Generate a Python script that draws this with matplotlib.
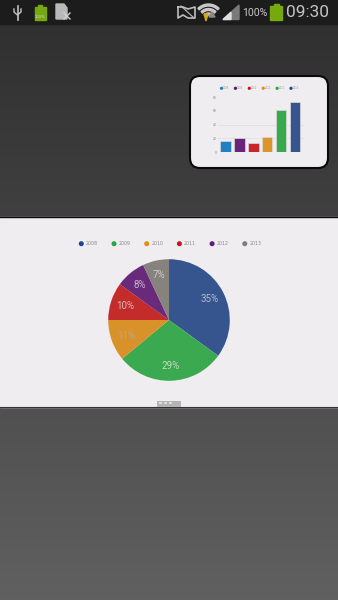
import matplotlib
matplotlib.use("Agg")
import matplotlib.pyplot as plt
from matplotlib.patches import FancyBboxPatch, Rectangle, Polygon, Circle, Wedge
import numpy as np

years = ["2008", "2009", "2010", "2011", "2012", "2013"]
pie_values = [35, 29, 11, 10, 8, 7]
pie_colors = ["#36558f", "#3aa94f", "#d9922a", "#c42b2b", "#6a2a7c", "#86827c"]
pie_label_colors = ["#b4bccf", "#c4dcc4", "#b4a888", "#ddb8b8", "#c8b4cc", "#cccccc"]
legend_dots = ["#1c4594", "#22a83f", "#dd9011", "#cf1020", "#631a77", "#7c7c7c"]

bar_values = [16.6, 20.5, 13.7, 22, 60.5, 72.7]
bar_colors = ["#1f80c4", "#68267a", "#c9252b", "#dc952a", "#39a94e", "#36558f"]
bar_legend = ["#1f80c4", "#4a1a66", "#cf1020", "#dd9011", "#22a83f", "#1c4594"]
bar_ticks = [0, 20, 40, 60, 80]
bar_grid = [20, 40]

W, H = 338, 600
PANEL = "#f0edf0"


def px_axes(fig, x0, y0, x1, y1):
    # axes placed with top-left pixel coordinates
    return fig.add_axes([x0 / W, 1 - y1 / H, (x1 - x0) / W, (y1 - y0) / H])


def status_bar(ax):
    ax.add_patch(Rectangle((0, 0), W, 24, color="#1c1c1c", zorder=5))
    # usb
    ax.plot([17.5, 17.5], [6, 20], color="#c4c4c4", lw=1.2, zorder=6)
    ax.plot([14, 14, 17.5, 21, 21], [9, 12, 15, 12, 9], color="#c4c4c4", lw=1, zorder=6)
    # small battery
    ax.add_patch(Rectangle((34.5, 7), 11, 13, color="#76a80f", zorder=6))
    ax.add_patch(Rectangle((38, 4.5), 4, 2.5, color="#76a80f", zorder=6))
    ax.text(40, 17, "100%", fontsize=2.6, color="#dddddd", ha="center", va="center", zorder=7)
    # sim
    ax.add_patch(Polygon([[56, 4], [64, 4], [67, 8], [67, 19], [56, 19]], color="#b9b9b9", zorder=6))
    ax.plot([64, 70], [13, 19], color="#d0d0d0", lw=1, zorder=7)
    ax.plot([64, 70], [19, 13], color="#d0d0d0", lw=1, zorder=7)
    # muted
    ax.plot([178, 178, 183, 188, 195, 195, 188, 183, 178], [7, 18, 15, 18, 18, 7, 9, 7, 7],
            color="#bdbdbd", lw=1.2, zorder=6)
    ax.plot([181, 194], [6, 18], color="#bdbdbd", lw=0.8, zorder=6)
    # wifi
    for r in [15, 10.5, 6]:
        ax.add_patch(Wedge((208.5, 19), r, 225, 315, width=2, color="#c8c8c8", zorder=6))
    ax.add_patch(Polygon([[204, 14], [208, 14], [206, 21]], color="#d9a520", zorder=7))
    ax.add_patch(Polygon([[209, 17], [215, 17], [212, 12]], color="#8a8a8a", zorder=7))
    # signal
    ax.add_patch(Polygon([[223, 19.5], [239, 5], [239, 19.5]], color="#7a7a7a", zorder=6))
    ax.add_patch(Polygon([[223, 19.5], [231, 12.2], [231, 19.5]], color="#e0e0e0", zorder=7))
    ax.text(242, 12.5, "100%", fontsize=7.6, color="#c8c8c8", ha="left", va="center", zorder=6,
            family="Roboto")
    ax.add_patch(Rectangle((270, 6), 12, 14, color="#76a80f", zorder=6))
    ax.add_patch(Rectangle((273.5, 4), 5, 2, color="#76a80f", zorder=6))
    ax.text(286, 12.5, "09:30", fontsize=12.4, color="#c4c4c4", ha="left", va="center", zorder=6,
            family="Roboto")


def main():
    fig = plt.figure(figsize=(W / 100, H / 100), dpi=100)

    # background
    bg = fig.add_axes([0, 0, 1, 1])
    grad = np.linspace(0, 1, 600).reshape(-1, 1)
    bg.imshow(grad, cmap=matplotlib.colors.LinearSegmentedColormap.from_list("bg", ["#2e2e2e", "#606060"]),
              extent=[0, W, H, 0], aspect="auto", zorder=0)
    bg.set_xlim(0, W)
    bg.set_ylim(H, 0)
    bg.axis("off")
    status_bar(bg)

    # panel with the pie
    bg.add_patch(Rectangle((0, 217), W, 190, color=PANEL, zorder=2))
    bg.plot([0, W], [216.5, 216.5], color="#0a0a0a", lw=1, zorder=3)
    bg.plot([0, W], [407, 407], color="#333333", lw=0.8, zorder=3)
    bg.add_patch(Rectangle((157, 400.5), 24, 6.5, color="#b4b4b4", lw=0, zorder=3))
    for x in (159, 164, 169):
        bg.add_patch(Rectangle((x, 402), 3, 1.5, color="#dedede", lw=0, zorder=4))

    # inset card
    bg.add_patch(FancyBboxPatch((192, 78), 134, 88, boxstyle="round,pad=2,rounding_size=10",
                                fc=PANEL, ec="#0a0a0a", lw=1.5, zorder=2))

    # pie legend
    for i, (yr, c) in enumerate(zip(years, legend_dots)):
        x = 81.3 + i * 32.7
        bg.add_patch(Circle((x, 243.7), 1.8, color=c, zorder=3))
        bg.text(x + 4.5, 243.7, yr, fontsize=3.4, color="#8a8a8a", va="center", ha="left", zorder=3)

    # pie
    ax = px_axes(fig, 107, 258, 231, 382)
    ax.pie(pie_values, colors=pie_colors, startangle=90, counterclock=False, radius=1,
           autopct="%d%%", pctdistance=0.755,
           textprops={"fontsize": 7, "color": "#d8d8d8", "family": "Roboto"})
    for t, c in zip(ax.texts[1::2], pie_label_colors):
        t.set_color(c)
    ax.set_xlim(-1.02, 1.02)
    ax.set_ylim(-1.02, 1.02)

    # inset bars
    bx = px_axes(fig, 218, 97, 304, 152)
    bx.bar(range(len(bar_values)), bar_values, width=0.74, color=bar_colors,
           edgecolor="#dcd8dc", linewidth=0.5, zorder=3)
    bx.set_xlim(-0.55, 5.65)
    bx.set_ylim(0, 80)
    bx.patch.set_alpha(0)
    for s in bx.spines.values():
        s.set_visible(False)
    bx.set_xticks([])
    bx.set_yticks(bar_ticks)
    bx.tick_params(axis="y", length=0, pad=1, labelsize=2.2, labelcolor="#808080")
    for v in bar_grid:
        bx.axhline(v, color="#e2dfe2", lw=0.6, zorder=1)

    for i, (yr, c) in enumerate(zip(years, bar_legend)):
        x = 221.5 + i * 13.9
        bg.add_patch(Circle((x, 88.3), 0.9, color=c, zorder=3))
        bg.text(x + 1.5, 88.3, yr, fontsize=1.8, color="#999999", va="center", ha="left", zorder=3)

    fig.savefig("out.png", dpi=100)


if __name__ == "__main__":
    main()
